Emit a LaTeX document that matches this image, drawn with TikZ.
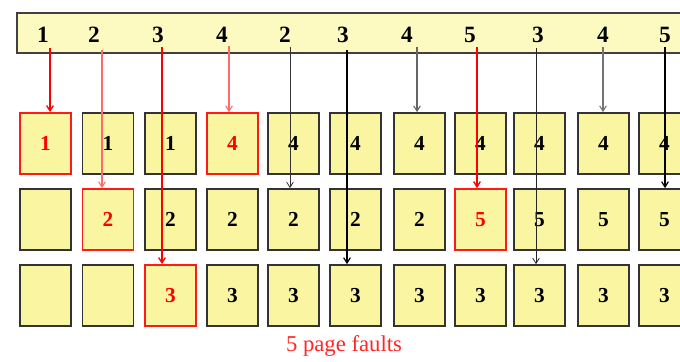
\documentclass[tikz,border=0pt]{standalone}
\usepackage{fontspec}
\setmainfont{Liberation Serif}
\usetikzlibrary{arrows.meta}
\definecolor{boxfill}{HTML}{FAF5A0}
\definecolor{barfill}{HTML}{FCFAC0}
\definecolor{lightred}{HTML}{FF6A6A}
\tikzset{
  frame/.style={draw=black!80, line width=1.3pt, fill=boxfill, minimum width=38.25pt, minimum height=45.75pt, inner sep=0pt, font=\fontsize{16}{17}\selectfont\bfseries},
  fault/.style={frame, draw=red!90!white, text=red},
  refnum/.style={font=\fontsize{17.5}{20}\selectfont\bfseries, inner sep=0pt},
  conn/.style={-{Straight Barb[length=4pt,width=5pt]}, line width=0.6pt},
}
\begin{document}
\begin{tikzpicture}[x=0.75pt,y=-0.75pt]
\useasboundingbox (0,0) rectangle (680,361);
\clip (0,0) rectangle (680,361);
\fill[white] (0,0) rectangle (680,361);
% reference string bar
\draw[fill=barfill, draw=black!75, line width=1.3pt] (17,13) rectangle (700,53);
\foreach \n/\x/\v in {1/43/1, 2/94/2, 3/158/3, 4/222/4, 5/285/2, 6/343/3, 7/407/4, 8/470/5, 9/538/3, 10/603/4, 11/665/5}
  \node[refnum] (r\n) at (\x,35) {\v};
\def\rowA{143.5}\def\rowB{219.5}\def\rowC{295.5}
% column 1
\node[fault] (a1) at (45.5,\rowA) {1};
\node[frame] (b1) at (45.5,\rowB) {};
\node[frame] (c1) at (45.5,\rowC) {};
% column 2
\node[frame] (a2) at (108,\rowA) {1};
\node[fault] (b2) at (108,\rowB) {2};
\node[frame] (c2) at (108,\rowC) {};
% column 3
\node[frame] (a3) at (170.5,\rowA) {1};
\node[frame] (b3) at (170.5,\rowB) {2};
\node[fault] (c3) at (170.5,\rowC) {3};
% column 4
\node[fault] (a4) at (232.5,\rowA) {4};
\node[frame] (b4) at (232.5,\rowB) {2};
\node[frame] (c4) at (232.5,\rowC) {3};
% column 5
\node[frame] (a5) at (293.5,\rowA) {4};
\node[frame] (b5) at (293.5,\rowB) {2};
\node[frame] (c5) at (293.5,\rowC) {3};
% column 6
\node[frame] (a6) at (355.5,\rowA) {4};
\node[frame] (b6) at (355.5,\rowB) {2};
\node[frame] (c6) at (355.5,\rowC) {3};
% column 7
\node[frame] (a7) at (419.5,\rowA) {4};
\node[frame] (b7) at (419.5,\rowB) {2};
\node[frame] (c7) at (419.5,\rowC) {3};
% column 8
\node[frame] (a8) at (480.5,\rowA) {4};
\node[fault] (b8) at (480.5,\rowB) {5};
\node[frame] (c8) at (480.5,\rowC) {3};
% column 9
\node[frame] (a9) at (539.5,\rowA) {4};
\node[frame] (b9) at (539.5,\rowB) {5};
\node[frame] (c9) at (539.5,\rowC) {3};
% column 10
\node[frame] (a10) at (603.5,\rowA) {4};
\node[frame] (b10) at (603.5,\rowB) {5};
\node[frame] (c10) at (603.5,\rowC) {3};
% column 11
\node[frame] (a11) at (664.5,\rowA) {4};
\node[frame] (b11) at (664.5,\rowB) {5};
\node[frame] (c11) at (664.5,\rowC) {3};
% arrow start points under the bar
\coordinate (s1) at (50,48);
\coordinate (s2) at (102,50);
\coordinate (s3) at (162,47);
\coordinate (s4) at (229,46);
\coordinate (s5) at (290,47);
\coordinate (s6) at (347,50);
\coordinate (s7) at (417,47);
\coordinate (s8) at (477,47);
\coordinate (s9) at (536,48);
\coordinate (s10) at (603,47);
\coordinate (s11) at (665,47);
% connectors
\draw[conn, red, line width=1pt] (s1) -- (s1 |- a1.north);
\draw[conn, lightred, line width=0.8pt] (s2) -- (s2 |- b2.north);
\draw[conn, red, line width=1pt] (s3) -- (s3 |- c3.north);
\draw[conn, lightred, line width=0.8pt] (s4) -- (s4 |- a4.north);
\draw[conn, black!80] (s5) -- (s5 |- b5.north);
\draw[conn, black, line width=0.9pt] (s6) -- (s6 |- c6.north);
\draw[conn, black!60, line width=0.8pt] (s7) -- (s7 |- a7.north);
\draw[conn, red, line width=1pt] (s8) -- (s8 |- b8.north);
\draw[conn, black!85] (s9) -- (s9 |- c9.north);
\draw[conn, black!55, line width=0.8pt] (s10) -- (s10 |- a10.north);
\draw[conn, black, line width=0.9pt] (s11) -- (s11 |- b11.north);
% caption
\node[text=red!85!white, font=\fontsize{17}{19}\selectfont, inner sep=0pt] (faults) at (344,346) {5 page faults};
\end{tikzpicture}
\end{document}
